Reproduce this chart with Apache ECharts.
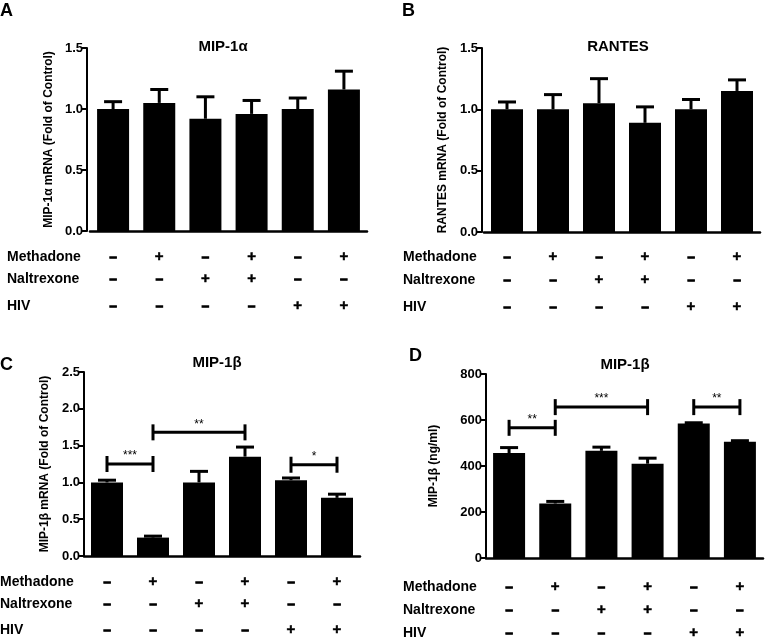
<!DOCTYPE html>
<html>
<head>
<meta charset="utf-8">
<script src="https://cdn.jsdelivr.net/npm/echarts@6/dist/echarts.min.js"></script>
<style>html,body{margin:0;padding:0;background:#fff}#c{width:765px;height:643px}</style>
</head>
<body>
<div id="c"></div>
<script>
// ---- data ----
const categories = ['Control', 'Methadone', 'Naltrexone', 'Methadone+Naltrexone', 'HIV', 'HIV+Methadone'];
const methadoneRow = ['–', '+', '–', '+', '–', '+'];
const naltrexoneRow = ['–', '–', '+', '+', '–', '–'];
const hivRow = ['–', '–', '–', '–', '+', '+'];
const rowNames = ['Methadone', 'Naltrexone', 'HIV'];

const valuesA = [1.00, 1.05, 0.92, 0.96, 1.00, 1.16];
const semA = [0.06, 0.11, 0.18, 0.11, 0.09, 0.15];
const valuesB = [1.00, 1.00, 1.05, 0.89, 1.00, 1.15];
const semB = [0.06, 0.12, 0.20, 0.13, 0.08, 0.09];
const valuesC = [1.00, 0.25, 1.00, 1.35, 1.03, 0.79];
const semC = [0.03, 0.02, 0.15, 0.13, 0.03, 0.05];
const valuesD = [456, 237, 466, 410, 585, 505];
const semD = [24, 9, 16, 24, 3, 5];

const bracketsC = [[0, 1, 1.25], [1, 3, 1.68], [4, 5, 1.24]];
const starsC = ['***', '**', '*'];
const bracketsD = [[0, 1, 566], [1, 3, 656], [4, 5, 656]];
const starsD = ['**', '***', '**'];

// ---- layout ----
const FONT = 'Liberation Sans, Arial, sans-serif';
const panels = [
  {letter: 'A', lx: 0, ly: 2, title: 'MIP-1α', tx: 223, ty: 47, yname: 'MIP-1α mRNA (Fold of Control)', nameGap: 32,
   left: 90, top: 48, width: 277, height: 183, yOff: 3, max: 1.5, interval: 0.5, dec: 1,
   values: valuesA, sem: semA, rowX: 7, margin: 15, lh: [22, 22, 32]},
  {letter: 'B', lx: 402, ly: 2, title: 'RANTES', tx: 618, ty: 47, yname: 'RANTES mRNA (Fold of Control)', nameGap: 33,
   left: 484, top: 48, width: 276, height: 184, yOff: 2, max: 1.5, interval: 0.5, dec: 1,
   values: valuesB, sem: semB, rowX: 403, margin: 14, lh: [22, 24, 30]},
  {letter: 'C', lx: 0, ly: 356, title: 'MIP-1β', tx: 217, ty: 363, yname: 'MIP-1β mRNA (Fold of Control)', nameGap: 33,
   left: 84, top: 372, width: 276, height: 184, yOff: 0, max: 2.5, interval: 0.5, dec: 1,
   values: valuesC, sem: semC, rowX: 0, margin: 15, lh: [22, 22, 30], brackets: bracketsC, stars: starsC},
  {letter: 'D', lx: 409, ly: 347, title: 'MIP-1β', tx: 625, ty: 365, yname: 'MIP-1β (ng/ml)', nameGap: 46,
   left: 486, top: 374, width: 277, height: 184, yOff: 0, max: 800, interval: 200, dec: 0,
   values: valuesD, sem: semD, rowX: 403, margin: 18, lh: [22, 24, 22], brackets: bracketsD, stars: starsD}
];

function errRender(params, api) {
  const x = api.value(0), v = api.value(1), t = api.value(2);
  const p0 = api.coord([x, v]);
  const p1 = api.coord([x, t]);
  const half = 9;
  return {type: 'group', children: [
    {type: 'line', shape: {x1: p0[0], y1: p0[1], x2: p1[0], y2: p1[1]}, style: {stroke: '#000', lineWidth: 3}},
    {type: 'line', shape: {x1: p1[0] - half, y1: p1[1], x2: p1[0] + half, y2: p1[1]}, style: {stroke: '#000', lineWidth: 3}}
  ]};
}

function bracketRender(stars) {
  return function (params, api) {
    const a = api.coord([api.value(0), api.value(2)]);
    const b = api.coord([api.value(1), api.value(2)]);
    const h = 8;
    return {type: 'group', children: [
      {type: 'line', shape: {x1: a[0], y1: a[1], x2: b[0], y2: b[1]}, style: {stroke: '#000', lineWidth: 3}},
      {type: 'line', shape: {x1: a[0], y1: a[1] - h, x2: a[0], y2: a[1] + h}, style: {stroke: '#000', lineWidth: 3}},
      {type: 'line', shape: {x1: b[0], y1: b[1] - h, x2: b[0], y2: b[1] + h}, style: {stroke: '#000', lineWidth: 3}},
      {type: 'text', style: {text: stars[params.dataIndex], x: (a[0] + b[0]) / 2, y: a[1] - 8,
        align: 'center', verticalAlign: 'middle', fontSize: 12, fontFamily: FONT, fill: '#000'}}
    ]};
  };
}

function signStyle(sign, lh) {
  if (sign === '+') {
    return {fontSize: 15, fontWeight: 'bold', fontFamily: FONT, lineHeight: lh, color: '#000',
      textBorderColor: '#000', textBorderWidth: 0.5};
  }
  return {fontSize: 13, fontWeight: 'bold', fontFamily: FONT, lineHeight: lh, color: '#000',
    textBorderColor: '#000', textBorderWidth: 1.2};
}

const grid = [], xAxis = [], yAxis = [], series = [], graphic = [];
panels.forEach((p, k) => {
  grid.push({left: p.left, top: p.top, width: p.width, height: p.height, containLabel: false});
  const rows = [methadoneRow, naltrexoneRow, hivRow];
  const rich = {};
  rows.forEach((row, r) => {
    rich['p' + r] = signStyle('+', p.lh[r]);
    rich['m' + r] = signStyle('–', p.lh[r]);
  });
  xAxis.push({
    type: 'category', gridIndex: k, data: categories,
    axisLine: {lineStyle: {color: '#000', width: 2.5}},
    axisTick: {show: false},
    axisLabel: {
      interval: 0, margin: p.margin, color: '#000',
      formatter: (v, i) => rows.map((row, r) => '{' + (row[i] === '+' ? 'p' : 'm') + r + '|' + row[i] + '}').join('\n'),
      rich: rich
    }
  });
  yAxis.push({
    type: 'value', gridIndex: k, min: 0, max: p.max, interval: p.interval, offset: p.yOff,
    name: p.yname, nameLocation: 'middle', nameGap: p.nameGap,
    nameTextStyle: {fontSize: 12, fontWeight: 'bold', fontFamily: FONT, color: '#000'},
    axisLine: {show: true, lineStyle: {color: '#000', width: 2}},
    axisTick: {show: true, length: 5, lineStyle: {color: '#000', width: 2}},
    axisLabel: {fontSize: 13, fontWeight: 'bold', fontFamily: FONT, color: '#000', margin: 4,
      formatter: v => v.toFixed(p.dec)},
    splitLine: {show: false}
  });
  series.push({
    type: 'bar', xAxisIndex: k, yAxisIndex: k, data: p.values, barWidth: 32,
    itemStyle: {color: '#000'}, silent: true, z: 2
  });
  series.push({
    type: 'custom', xAxisIndex: k, yAxisIndex: k, renderItem: errRender, z: 3, silent: true,
    data: p.values.map((v, i) => [i, v, v + p.sem[i]]), encode: {x: 0, y: [1, 2]}
  });
  if (p.brackets) {
    series.push({
      type: 'custom', xAxisIndex: k, yAxisIndex: k, renderItem: bracketRender(p.stars), z: 4, silent: true,
      data: p.brackets, encode: {x: [0, 1], y: 2}
    });
  }
  graphic.push({type: 'text', left: p.lx, top: p.ly,
    style: {text: p.letter, fontSize: 18, fontWeight: 'bold', fontFamily: FONT, fill: '#000'}});
  graphic.push({type: 'text', x: p.tx, y: p.ty,
    style: {text: p.title, fontSize: 15, fontWeight: 'bold', fontFamily: FONT, fill: '#000', align: 'center', verticalAlign: 'middle'}});
  const bottom = p.top + p.height;
  let acc = p.margin;
  rowNames.forEach((name, r) => {
    const cy = bottom + acc + p.lh[r] / 2;
    acc += p.lh[r];
    graphic.push({type: 'text', x: p.rowX, y: cy,
      style: {text: name, fontSize: 14, fontWeight: 'bold', fontFamily: FONT, fill: '#000', align: 'left', verticalAlign: 'middle'}});
  });
});

const chart = echarts.init(document.getElementById('c'), null, {renderer: 'canvas'});
chart.setOption({animation: false, backgroundColor: '#fff', grid, xAxis, yAxis, series, graphic});
</script>
</body>
</html>
